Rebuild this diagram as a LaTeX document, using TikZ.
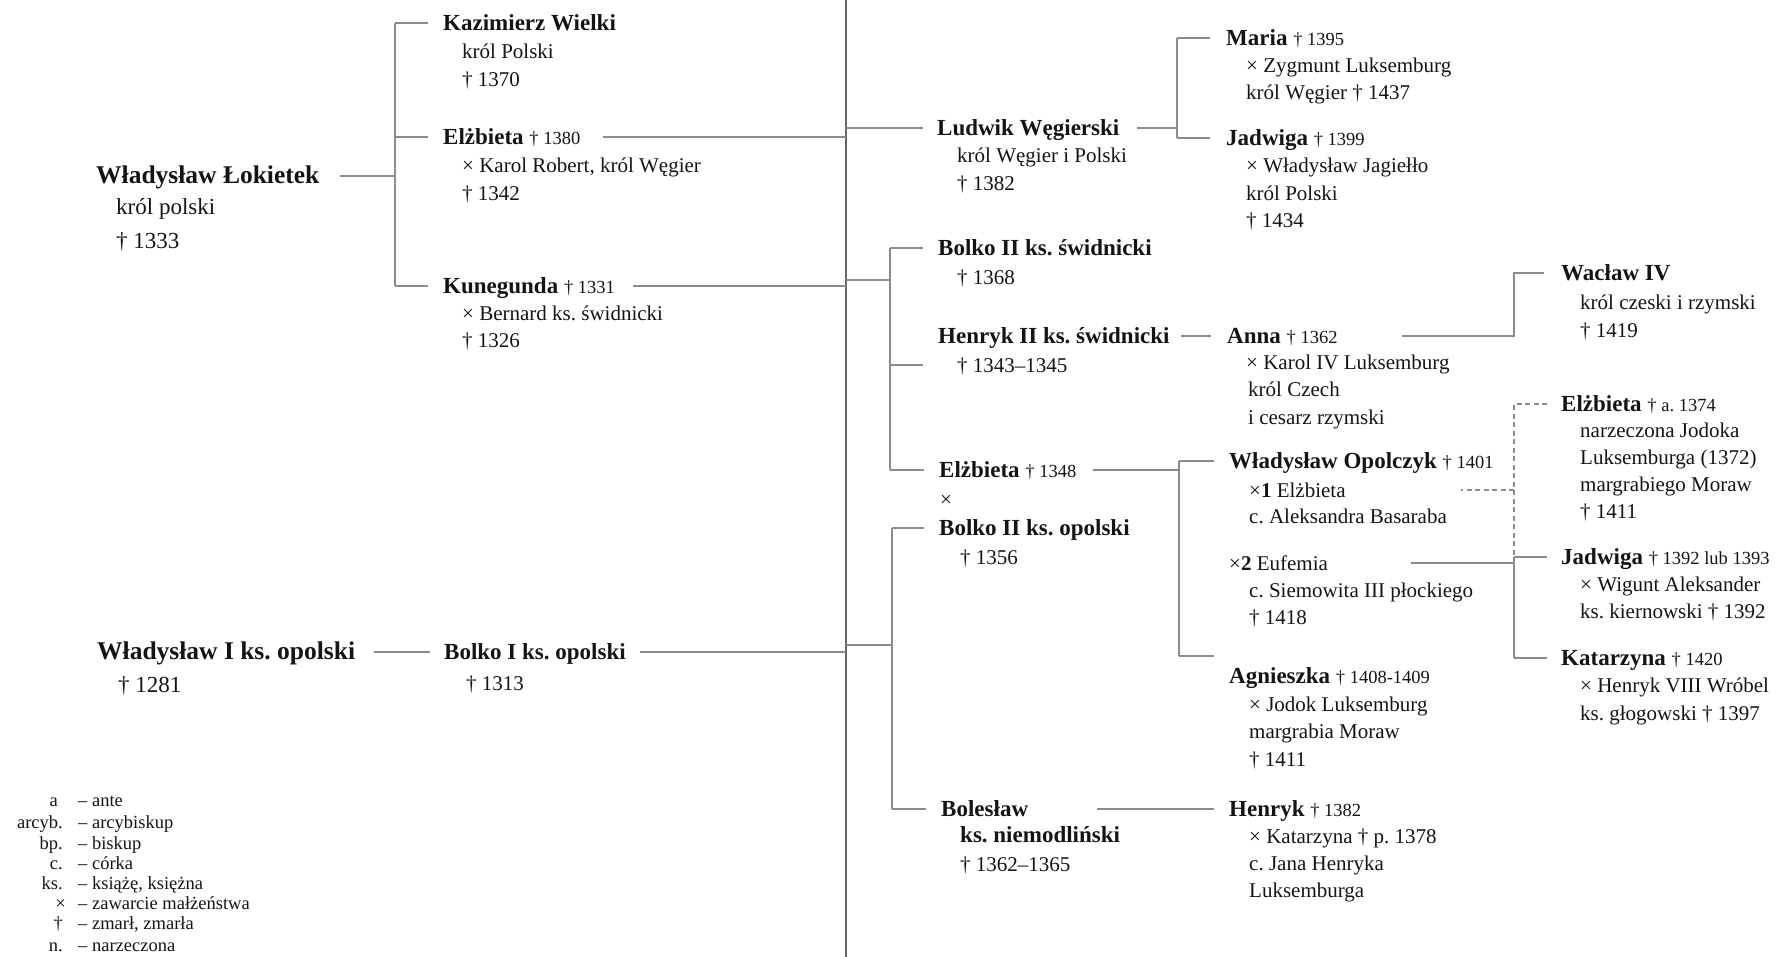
\documentclass[tikz,border=0pt]{standalone}
\usepackage{fontspec}
\setmainfont{Liberation Serif}
\usepackage{tikz}
\frenchspacing
\newcommand{\dd}[1]{{\fontsize{18.5}{20}\selectfont\mdseries † #1}}

\begin{document}
\begin{tikzpicture}[
	x=1pt, y=-1pt,
	txt/.style={inner sep=0pt, text=black!92},
	big/.style={txt, anchor=west, font=\fontsize{25.5}{28}\selectfont\bfseries, text height=19pt, text depth=3.5pt},
	person/.style={txt, anchor=west, font=\fontsize{23}{26}\selectfont\bfseries, text height=18pt, text depth=3pt},
	info/.style={txt, anchor=west, font=\fontsize{21}{24}\selectfont, text height=17pt, text depth=2.5pt},
	biginfo/.style={info, font=\fontsize{23}{26}\selectfont},
	abbr/.style={txt, anchor=east, font=\fontsize{18.5}{20}\selectfont, text height=13pt, text depth=4pt},
	expl/.style={abbr, anchor=west},
	link/.style={draw=black!45, line width=1.2pt},
	dashlink/.style={link, dash pattern=on 5pt off 3.5pt},
	spine/.style={draw=black!60, line width=1.8pt}
	]
	
	\useasboundingbox (0,0) rectangle (1777,957);
	
	% Left page
	\node[big] (lok) at (96,176) {Władysław Łokietek};
	\node[biginfo] (lok1) at (116,207) {król polski};
	\node[biginfo] (lok2) at (116,241) {† 1333};
	
	\node[person] (kaz) at (443,23) {Kazimierz Wielki};
	\node[info] (kaz1) at (462,51) {król Polski};
	\node[info] (kaz2) at (462,79) {† 1370};
	\node[person] (elz) at (443,137) {Elżbieta \dd{1380}};
	\node[info] (elz1) at (462,165) {× Karol Robert, król Węgier};
	\node[info] (elz2) at (462,193) {† 1342};
	\node[person] (kun) at (443,286) {Kunegunda \dd{1331}};
	\node[info] (kun1) at (462,313) {× Bernard ks. świdnicki};
	\node[info] (kun2) at (462,340) {† 1326};
	
	\node[big] (wlo) at (97,652) {Władysław I ks. opolski};
	\node[biginfo] (wlo1) at (118,685) {† 1281};
	\node[person] (bo1) at (444,652) {Bolko I ks. opolski};
	\node[info] (bo11) at (466,683) {† 1313};
	
	% Legend
	\node[abbr] (ab1) at (58,802) {a};
	\node[expl] (ex1) at (78,802) {– ante};
	\node[abbr] (ab2) at (63,824) {arcyb.};
	\node[expl] (ex2) at (78,824) {– arcybiskup};
	\node[abbr] (ab3) at (63,845) {bp.};
	\node[expl] (ex3) at (78,845) {– biskup};
	\node[abbr] (ab4) at (63,865) {c.};
	\node[expl] (ex4) at (78,865) {– córka};
	\node[abbr] (ab5) at (63,885) {ks.};
	\node[expl] (ex5) at (78,885) {– książę, księżna};
	\node[abbr] (ab6) at (66,905) {×};
	\node[expl] (ex6) at (78,905) {– zawarcie małżeństwa};
	\node[abbr] (ab7) at (63,925) {†};
	\node[expl] (ex7) at (78,925) {– zmarł, zmarła};
	\node[abbr] (ab8) at (63,947) {n.};
	\node[expl] (ex8) at (78,947) {– narzeczona};
	
	% Right page
	\node[person] (lud) at (937,128) {Ludwik Węgierski};
	\node[info] (lud1) at (957,155) {król Węgier i Polski};
	\node[info] (lud2) at (957,183) {† 1382};
	\node[person] (mar) at (1226,38) {Maria \dd{1395}};
	\node[info] (mar1) at (1246,65) {× Zygmunt Luksemburg};
	\node[info] (mar2) at (1246,92) {król Węgier † 1437};
	\node[person] (jad) at (1226,138) {Jadwiga \dd{1399}};
	\node[info] (jad1) at (1246,165) {× Władysław Jagiełło};
	\node[info] (jad2) at (1246,193) {król Polski};
	\node[info] (jad3) at (1246,220) {† 1434};
	
	\node[person] (bsw) at (938,248) {Bolko II ks. świdnicki};
	\node[info] (bsw1) at (957,277) {† 1368};
	\node[person] (hen) at (938,336) {Henryk II ks. świdnicki};
	\node[info] (hen1) at (957,365) {† 1343–1345};
	\node[person] (ann) at (1227,336) {Anna \dd{1362}};
	\node[info] (ann1) at (1246,362) {× Karol IV Luksemburg};
	\node[info] (ann2) at (1248,389) {król Czech};
	\node[info] (ann3) at (1248,417) {i cesarz rzymski};
	\node[person] (wac) at (1561,273) {Wacław IV};
	\node[info] (wac1) at (1580,302) {król czeski i rzymski};
	\node[info] (wac2) at (1580,330) {† 1419};
	
	\node[person] (els) at (939,470) {Elżbieta \dd{1348}};
	\node[info] (mx) at (940,499) {×};
	\node[person] (bop) at (939,528) {Bolko II ks. opolski};
	\node[info] (bop1) at (960,557) {† 1356};
	\node[person] (wop) at (1229,461) {Władysław Opolczyk \dd{1401}};
	\node[info] (wop1) at (1249,490) {×\textbf{1} Elżbieta};
	\node[info] (wop2) at (1249,516) {c. Aleksandra Basaraba};
	\node[info] (euf) at (1229,563) {×\textbf{2} Eufemia};
	\node[info] (euf1) at (1249,590) {c. Siemowita III płockiego};
	\node[info] (euf2) at (1249,617) {† 1418};
	\node[person] (agn) at (1229,676) {Agnieszka \dd{1408-1409}};
	\node[info] (agn1) at (1249,704) {× Jodok Luksemburg};
	\node[info] (agn2) at (1249,731) {margrabia Moraw};
	\node[info] (agn3) at (1249,759) {† 1411};
	
	\node[person] (ela) at (1561,404) {Elżbieta \dd{a. 1374}};
	\node[info] (ela1) at (1580,430) {narzeczona Jodoka};
	\node[info] (ela2) at (1580,457) {Luksemburga (1372)};
	\node[info] (ela3) at (1580,484) {margrabiego Moraw};
	\node[info] (ela4) at (1580,511) {† 1411};
	\node[person] (jdw) at (1561,557) {Jadwiga \dd{1392 lub 1393}};
	\node[info] (jdw1) at (1580,584) {× Wigunt Aleksander};
	\node[info] (jdw2) at (1580,611) {ks. kiernowski † 1392};
	\node[person] (kat) at (1561,658) {Katarzyna \dd{1420}};
	\node[info] (kat1) at (1580,685) {× Henryk VIII Wróbel};
	\node[info] (kat2) at (1580,713) {ks. głogowski † 1397};
	
	\node[person] (bnm) at (941,809) {Bolesław};
	\node[person] (bnm1) at (960,835) {ks. niemodliński};
	\node[info] (bnm2) at (960,864) {† 1362–1365};
	\node[person] (hry) at (1229,809) {Henryk \dd{1382}};
	\node[info] (hry1) at (1249,836) {× Katarzyna † p. 1378};
	\node[info] (hry2) at (1249,863) {c. Jana Henryka};
	\node[info] (hry3) at (1249,890) {Luksemburga};
	
	% Spine between the pages
	\coordinate (top) at (846,0);
	\coordinate (bot) at (846,957);
	\draw[spine] (top) -- (bot);
	
	% Links, left page
	\coordinate (bA) at (395,0);
	\draw[link] ([xshift=20pt]lok.east) -- (bA |- lok.east);
	\draw[link] (bA |- kaz.west) -- (bA |- kun.west);
	\draw[link] (bA |- kaz.west) -- ([xshift=-15pt]kaz.west);
	\draw[link] (bA |- elz.west) -- ([xshift=-15pt]elz.west);
	\draw[link] (bA |- kun.west) -- ([xshift=-15pt]kun.west);
	\draw[link] ([xshift=22pt]elz.east) -- (top |- elz.east);
	\draw[link] ([xshift=18pt]kun.east) -- (top |- kun.east);
	\draw[link] ([xshift=19pt]wlo.east) -- ([xshift=-14pt]bo1.west);
	\draw[link] ([xshift=14pt]bo1.east) -- (top |- bo1.east);
	
	% Links, right page
	\draw[link] (top |- lud.west) -- ([xshift=-14pt]lud.west);
	\coordinate (bB) at (1177,126);
	\draw[link] ([xshift=17pt]lud.east) -- (bB |- lud.east);
	\draw[link] (bB |- mar.west) -- (bB |- jad.west);
	\draw[link] (bB |- mar.west) -- ([xshift=-16pt]mar.west);
	\draw[link] (bB |- jad.west) -- ([xshift=-16pt]jad.west);
	
	\coordinate (bC) at (890,280);
	\draw[link] (top |- bC) -- (bC);
	\draw[link] (bC |- bsw.west) -- (bC |- els.west);
	\draw[link] (bC |- bsw.west) -- ([xshift=-15pt]bsw.west);
	\draw[link] (bC |- hen1.west) -- ++(33,0);
	\draw[link] (bC |- els.west) -- ([xshift=-15pt]els.west);
	
	\draw[link] ([xshift=11pt]hen.east) -- ([xshift=-16pt]ann.west);
	\coordinate (bW) at (1514,0);
	\draw[link] ([xshift=64pt]ann.east) -- (bW |- ann.east) -- (bW |- wac.west) -- ([xshift=-17pt]wac.west);
	
	\coordinate (bD) at (1179,0);
	\coordinate (agnT) at ([yshift=20pt]agn.west);
	\draw[link] ([xshift=16pt]els.east) -- (bD |- els.east);
	\draw[link] (bD |- wop.west) -- (bD |- agnT);
	\draw[link] (bD |- wop.west) -- ([xshift=-15pt]wop.west);
	\draw[link] (bD |- agnT) -- ([xshift=-15pt]agnT);
	
	\coordinate (bO) at (1514,0);
	\draw[dashlink] ([xshift=-14pt]ela.west) -- (bO |- ela.west) -- (bO |- jdw.west);
	\draw[dashlink] (bO |- wop1.east) -- ++(-53,0);
	\draw[link] (bO |- euf.east) -- ++(-103,0);
	\draw[link] (bO |- jdw.west) -- (bO |- kat.west);
	\draw[link] (bO |- jdw.west) -- ([xshift=-14pt]jdw.west);
	\draw[link] (bO |- kat.west) -- ([xshift=-14pt]kat.west);
	
	\coordinate (bE) at (892,645);
	\draw[link] (top |- bE) -- (bE);
	\draw[link] (bE |- bop.west) -- (bE |- bnm.west);
	\draw[link] (bE |- bop.west) -- ([xshift=-15pt]bop.west);
	\draw[link] (bE |- bnm.west) -- ([xshift=-15pt]bnm.west);
	\draw[link] ([xshift=-132pt]hry.west) -- ([xshift=-15pt]hry.west);
	
\end{tikzpicture}
\end{document}
